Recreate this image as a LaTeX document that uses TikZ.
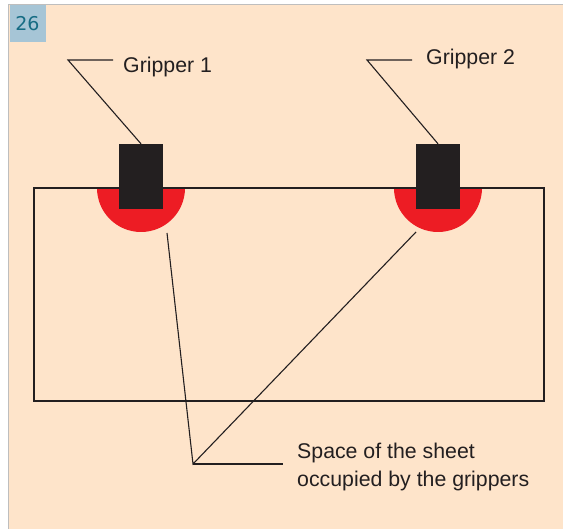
\documentclass[tikz,border=0pt]{standalone}
\usepackage{fontspec}
\setmainfont{Liberation Sans}
\newfontfamily\badgefont{DejaVu Sans}
\definecolor{bgbeige}{RGB}{254,228,202}
\definecolor{badgeblue}{RGB}{166,197,214}
\definecolor{badgeteal}{RGB}{22,108,132}
\definecolor{gripred}{RGB}{237,28,36}
\definecolor{inkdark}{RGB}{35,31,32}
\definecolor{edgegrey}{RGB}{190,190,190}
\tikzset{
  gripbox/.style={fill=inkdark, draw=none, minimum width=44pt, minimum height=65pt, inner sep=0pt},
  leader/.style={draw=inkdark, line width=1.1pt},
  lbl/.style={text=inkdark, font=\fontsize{21.3}{28}\selectfont, inner sep=0pt, anchor=west},
  sheetbox/.style={draw=inkdark, line width=2.4pt, minimum width=510pt, minimum height=213pt, inner sep=0pt}
}
\begin{document}
\begin{tikzpicture}[x=1pt,y=-1pt]
\useasboundingbox (0,0) rectangle (563,529);
\fill[white] (0,0) rectangle (563,529);
\fill[bgbeige] (8,4) rectangle (563,529);
\draw[edgegrey, line width=1.6pt] (8.5,529) -- (8.5,4.5) -- (563,4.5);
\node[fill=badgeblue, minimum width=36pt, minimum height=37pt, inner sep=0pt, anchor=north west,
      text=badgeteal, font=\badgefont\fontsize{19}{19}\selectfont] (badge) at (9.3,5.3) {26};
% red occupied zones
\fill[gripred] (97,188) arc[start angle=180, end angle=360, radius=44pt] -- cycle;
\fill[gripred] (394,188) arc[start angle=180, end angle=360, radius=44pt] -- cycle;
% sheet
\node[sheetbox] (sheet) at (289,294.5) {};
% grippers
\node[gripbox] (g1) at (141,176.5) {};
\node[gripbox] (g2) at (438,176.5) {};
% labels
\node[lbl] (l1) at (123,67) {Gripper 1};
\node[lbl] (l2) at (426,59) {Gripper 2};
\node[lbl, align=left] (l3) at (297,467) {Space of the sheet\\occupied by the grippers};
% leader coordinates
\coordinate (b1) at (68,60);
\coordinate (e1) at (113,60);
\coordinate (b2) at (367,60);
\coordinate (e2) at (412,60);
\coordinate (s1) at (167,233);
\coordinate (s2) at (416,232);
\coordinate (p) at (193,464);
\coordinate (pe) at (283,464);
% leaders
\draw[leader] (g1.north) -- (b1) -- (e1);
\draw[leader] (g2.north) -- (b2) -- (e2);
\draw[leader] (s1) -- (p) -- (s2);
\draw[leader] (p) -- (pe);
\end{tikzpicture}
\end{document}
